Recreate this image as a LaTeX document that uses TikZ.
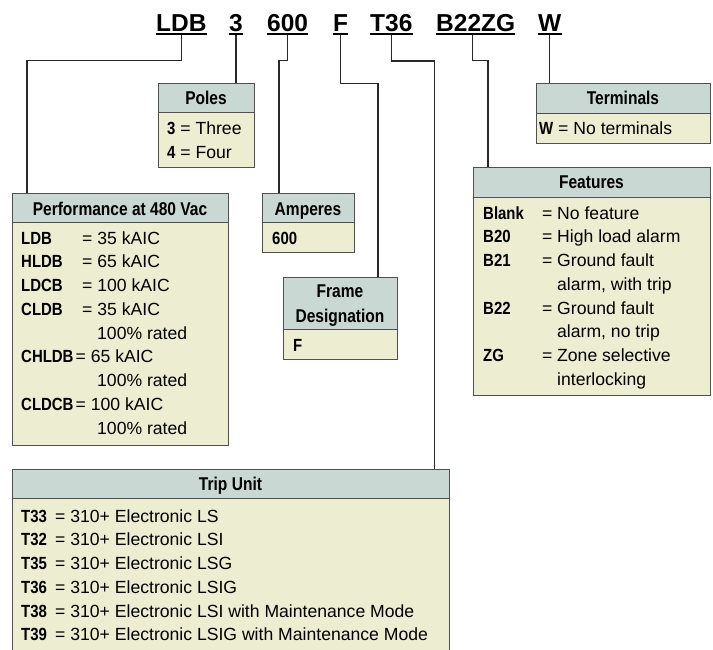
\documentclass[tikz,border=0pt]{standalone}
\usepackage{fontspec}
\setmainfont{Liberation Sans}
\newfontfamily\hdfont[FakeStretch=0.84]{Liberation Sans}
\newfontfamily\lbfont[FakeStretch=0.85]{Liberation Sans}
\definecolor{hdr}{RGB}{201,216,210}
\definecolor{bdy}{RGB}{236,237,209}
\definecolor{edge}{RGB}{80,80,80}
\definecolor{lnk}{RGB}{40,40,40}
\begin{document}
\begin{tikzpicture}[x=1pt,y=-1pt,
  code/.style={anchor=base west, inner sep=0pt, font=\fontsize{24.5}{25}\selectfont\bfseries},
  uline/.style={line width=2pt, draw=black},
  hbox/.style={draw=edge, fill=hdr, line width=1.1pt, anchor=north west, inner sep=0pt},
  hd/.style={anchor=base, inner sep=0pt, font=\hdfont\fontsize{18.5}{20}\selectfont\bfseries},
  bbox/.style={draw=edge, fill=bdy, line width=1.1pt, anchor=north west, inner sep=0pt},
  lb/.style={anchor=base west, inner sep=0pt, font=\lbfont\fontsize{17.6}{20}\selectfont\bfseries},
  tx/.style={anchor=base west, inner sep=0pt, font=\fontsize{17.6}{20}\selectfont},
  conn/.style={draw=lnk, line width=1.1pt}]
\useasboundingbox (0,0) rectangle (713,650);
\fill[white] (0,0) rectangle (713,650);

% code letters
\node[code] (cLDB) at (156,31.7) {LDB};
\node[code] (c3) at (229,31.7) {3};
\node[code] (c600) at (267,31.7) {600};
\node[code] (cF) at (333,31.7) {F};
\node[code] (cT) at (370,31.7) {T36};
\node[code] (cB) at (436,31.7) {B22ZG};
\node[code] (cW) at (538,31.7) {W};
\foreach \n in {cLDB,c3,c600,cF,cT,cB,cW}
  \draw[uline] ([yshift=-2.8pt]\n.base west) -- ([yshift=-2.8pt]\n.base east);

% boxes
\node[bbox, minimum width=96pt, minimum height=55pt] (polesB) at (158,112) {};
\node[hbox, minimum width=96pt, minimum height=29pt] (polesH) at (158,83) {};
\node[hd] (polesT) at (206,105) {Poles};

\node[bbox, minimum width=174pt, minimum height=30pt] (termB) at (536,113) {};
\node[hbox, minimum width=174pt, minimum height=30pt] (termH) at (536,83) {};
\node[hd] (termT) at (623,105) {Terminals};

\node[bbox, minimum width=216pt, minimum height=223pt] (perfB) at (12,222) {};
\node[hbox, minimum width=216pt, minimum height=29pt] (perfH) at (12,193) {};
\node[hd] (perfT) at (120,215) {Performance at 480 Vac};

\node[bbox, minimum width=92pt, minimum height=30pt] (ampB) at (262,222) {};
\node[hbox, minimum width=92pt, minimum height=29pt] (ampH) at (262,193) {};
\node[hd] (ampT) at (308,215) {Amperes};

\node[bbox, minimum width=114pt, minimum height=30pt] (frameB) at (283,329) {};
\node[hbox, minimum width=114pt, minimum height=52pt] (frameH) at (283,277) {};
\node[hd] (frameT1) at (340,298) {Frame};
\node[hd] (frameT2) at (340,322) {Designation};

\node[bbox, minimum width=237pt, minimum height=198pt] (featB) at (473,197) {};
\node[hbox, minimum width=237pt, minimum height=30pt] (featH) at (473,167) {};
\node[hd] (featT) at (591.5,188.5) {Features};

\node[bbox, minimum width=437pt, minimum height=170pt] (tripB) at (12,498) {};
\node[hbox, minimum width=437pt, minimum height=29pt] (tripH) at (12,469) {};
\node[hd] (tripT) at (230.5,490) {Trip Unit};

% connectors
\draw[conn] ([yshift=-2.8pt]cLDB.south) -- ++(0,26) -| ([xshift=15pt]perfH.north west);
\draw[conn] ([yshift=-2.8pt]c3.south) -- (c3.south |- polesH.north);
\draw[conn] ([yshift=-2.8pt]c600.south) -- ++(0,26) -| ([xshift=17pt]ampH.north west);
\draw[conn] ([yshift=-2.8pt]cF.south) -- ++(0,49) -| ([xshift=95pt]frameH.north west);
\draw[conn] ([yshift=-2.8pt]cT.south) -- ++(0,26) -| ([xshift=-16pt]tripH.north east);
\draw[conn] ([xshift=-3.5pt,yshift=-2.8pt]cB.south) -- ++(0,26) -| ([xshift=15pt]featH.north west);
\draw[conn] ([yshift=-2.8pt]cW.south) -- (cW.south |- termH.north);

% Poles
\node[tx] (po1) at (167,135) {\lbfont\bfseries 3\normalfont{} = Three};
\node[tx] (po2) at (167,159) {\lbfont\bfseries 4\normalfont{} = Four};
% Terminals
\node[tx] (te1) at (539,135) {\lbfont\bfseries W\normalfont{} = No terminals};
% Amperes, Frame
\node[lb] (am1) at (272,244) {600};
\node[lb] (fr1) at (293,351) {F};

% Performance
\node[lb] (pl1) at (21,244) {LDB};    \node[tx] (pt1) at (82,244) {= 35 kAIC};
\node[lb] (pl2) at (21,267.75) {HLDB}; \node[tx] (pt2) at (82,267.75) {= 65 kAIC};
\node[lb] (pl3) at (21,291.5) {LDCB};  \node[tx] (pt3) at (82,291.5) {= 100 kAIC};
\node[lb] (pl4) at (21,315.25) {CLDB}; \node[tx] (pt4) at (82,315.25) {= 35 kAIC};
\node[tx] (pt5) at (97,339) {100\% rated};
\node[lb] (pl6) at (21,362.75) {CHLDB}; \node[tx] (pt6) at (75.5,362.75) {= 65 kAIC};
\node[tx] (pt7) at (97,386.5) {100\% rated};
\node[lb] (pl8) at (21,410.25) {CLDCB}; \node[tx] (pt8) at (75.5,410.25) {= 100 kAIC};
\node[tx] (pt9) at (97,434) {100\% rated};

% Features
\node[lb] (fl1) at (483,219) {Blank}; \node[tx] (fe1) at (542,219) {=}; \node[tx] (ft1) at (557,219) {No feature};
\node[lb] (fl2) at (483,242.75) {B20}; \node[tx] (fe2) at (542,242.75) {=}; \node[tx] (ft2) at (557,242.75) {High load alarm};
\node[lb] (fl3) at (483,266.5) {B21}; \node[tx] (fe3) at (542,266.5) {=}; \node[tx] (ft3) at (557,266.5) {Ground fault};
\node[tx] (ft4) at (557,290.25) {alarm, with trip};
\node[lb] (fl5) at (483,314) {B22}; \node[tx] (fe5) at (542,314) {=}; \node[tx] (ft5) at (557,314) {Ground fault};
\node[tx] (ft6) at (557,337.75) {alarm, no trip};
\node[lb] (fl7) at (483,361.5) {ZG}; \node[tx] (fe7) at (542,361.5) {=}; \node[tx] (ft7) at (557,361.5) {Zone selective};
\node[tx] (ft8) at (557,385.25) {interlocking};

% Trip unit
\node[lb] (tl1) at (21,522) {T33}; \node[tx] (tt1) at (55,522) {= 310+ Electronic LS};
\node[lb] (tl2) at (21,545.75) {T32}; \node[tx] (tt2) at (55,545.75) {= 310+ Electronic LSI};
\node[lb] (tl3) at (21,569.5) {T35}; \node[tx] (tt3) at (55,569.5) {= 310+ Electronic LSG};
\node[lb] (tl4) at (21,593.25) {T36}; \node[tx] (tt4) at (55,593.25) {= 310+ Electronic LSIG};
\node[lb] (tl5) at (21,617) {T38}; \node[tx] (tt5) at (55,617) {= 310+ Electronic LSI with Maintenance Mode};
\node[lb] (tl6) at (21,640.75) {T39}; \node[tx] (tt6) at (55,640.75) {= 310+ Electronic LSIG with Maintenance Mode};
\end{tikzpicture}
\end{document}
